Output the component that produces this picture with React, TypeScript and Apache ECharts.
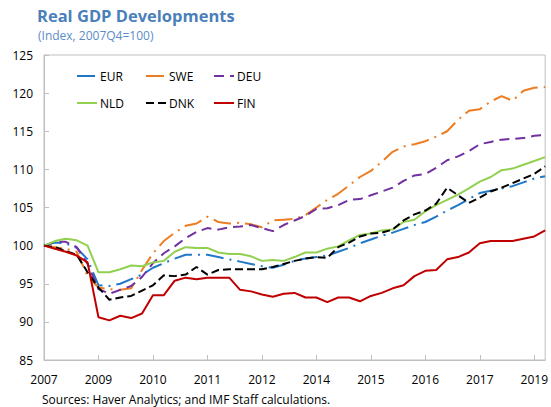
import React, { useEffect, useRef } from "react";
import * as echarts from "echarts";

const quarters = [
  "2007Q4",
  "2008Q1", "2008Q2", "2008Q3", "2008Q4",
  "2009Q1", "2009Q2", "2009Q3", "2009Q4",
  "2010Q1", "2010Q2", "2010Q3", "2010Q4",
  "2011Q1", "2011Q2", "2011Q3", "2011Q4",
  "2012Q1", "2012Q2", "2012Q3", "2012Q4",
  "2013Q1", "2013Q2", "2013Q3", "2013Q4",
  "2014Q1", "2014Q2", "2014Q3", "2014Q4",
  "2015Q1", "2015Q2", "2015Q3", "2015Q4",
  "2016Q1", "2016Q2", "2016Q3", "2016Q4",
  "2017Q1", "2017Q2", "2017Q3", "2017Q4",
  "2018Q1", "2018Q2", "2018Q3", "2018Q4",
  "2019Q1", "2019Q2",
];

const EUR = [100, 100.4, 100.3, 99.7, 98.2, 94.8, 94.7, 95.0, 95.6, 96.2, 97.1, 97.7, 98.3, 98.8, 98.8, 98.8, 98.5, 98.2, 97.9, 97.6, 97.3, 97.1, 97.5, 98.0, 98.3, 98.5, 98.7, 99.2, 99.7, 100.3, 100.8, 101.3, 101.7, 102.2, 102.7, 103.1, 103.8, 104.6, 105.3, 106.1, 106.9, 107.2, 107.5, 107.8, 108.3, 108.8, 109.1];
const SWE = [100, 99.8, 99.6, 99.2, 96.0, 94.5, 94.3, 94.2, 94.4, 96.8, 99.0, 100.6, 101.7, 102.6, 102.9, 103.8, 103.1, 102.9, 103.0, 102.8, 102.4, 103.3, 103.4, 103.5, 104.0, 105.0, 106.0, 106.8, 107.9, 109.0, 109.8, 111.0, 112.3, 113.0, 113.3, 113.7, 114.3, 115.0, 116.5, 117.7, 117.9, 118.9, 119.6, 119.0, 120.3, 120.7, 120.8];
const DEU = [100, 100.5, 100.5, 99.8, 97.6, 94.3, 93.7, 94.2, 94.7, 95.9, 97.7, 99.0, 99.9, 101.0, 101.8, 102.3, 102.1, 102.4, 102.5, 102.7, 102.3, 101.9, 102.7, 103.3, 103.9, 104.8, 104.9, 105.3, 106.0, 106.1, 106.6, 107.1, 107.6, 108.5, 109.2, 109.4, 110.2, 111.2, 111.7, 112.4, 113.3, 113.6, 113.9, 114.0, 114.1, 114.4, 114.5];
const NLD = [100, 100.6, 100.9, 100.7, 100.0, 96.5, 96.5, 96.9, 97.4, 97.3, 97.8, 98.0, 99.2, 99.8, 99.7, 99.7, 99.1, 98.9, 98.9, 98.6, 98.0, 98.1, 98.0, 98.5, 99.1, 99.1, 99.6, 99.9, 100.7, 101.4, 101.6, 102.0, 102.1, 103.1, 103.4, 104.5, 105.3, 106.0, 106.7, 107.5, 108.4, 109.0, 109.9, 110.1, 110.6, 111.1, 111.6];
const DNK = [100, 99.8, 99.3, 98.8, 96.5, 94.5, 92.9, 93.2, 93.4, 94.1, 94.8, 96.1, 96.0, 96.2, 97.2, 96.2, 96.8, 96.9, 96.9, 96.9, 96.9, 97.2, 97.6, 98.0, 98.3, 98.5, 98.4, 99.8, 100.4, 101.2, 101.6, 101.7, 102.1, 103.3, 104.1, 104.6, 105.5, 107.6, 106.6, 105.6, 106.3, 107.1, 107.6, 108.2, 108.8, 109.4, 110.4];
const FIN = [100, 99.6, 99.2, 98.7, 97.8, 90.6, 90.2, 90.8, 90.5, 91.1, 93.5, 93.5, 95.4, 95.8, 95.6, 95.8, 95.8, 95.8, 94.2, 94.0, 93.6, 93.3, 93.7, 93.8, 93.2, 93.2, 92.6, 93.2, 93.2, 92.7, 93.4, 93.8, 94.4, 94.8, 96.0, 96.7, 96.8, 98.2, 98.5, 99.1, 100.3, 100.6, 100.6, 100.6, 100.9, 101.2, 102.0];

const seriesNames = ["EUR", "SWE", "DEU", "NLD", "DNK", "FIN"];
const seriesData = [EUR, SWE, DEU, NLD, DNK, FIN];

const titleText = "Real GDP Developments";
const subtitleText = "(Index, 2007Q4=100)";
const sourceText = "Sources: Haver Analytics; and IMF Staff calculations.";

const FONT = "'Open Sans', 'Noto Sans', sans-serif";

export default function App() {
  const ref = useRef<HTMLDivElement>(null);

  useEffect(() => {
    const chart = echarts.init(ref.current!, null, { renderer: "svg" });

    const colors = ["#1f78c8", "#ee7d22", "#7030a0", "#92d050", "#000000", "#c00000"];
    const dashes: any[] = [
      [18, 6, 2, 6],
      [18, 6, 2, 6],
      [10, 6],
      "solid",
      [8, 4],
      "solid",
    ];
    const legendLeft = [76, 145, 213];
    const legendTop = [70, 97];

    chart.setOption({
      animation: false,
      backgroundColor: "#ffffff",
      title: [
        {
          text: titleText,
          left: 37,
          top: 7,
          padding: 0,
          textStyle: { fontFamily: FONT, fontSize: 16.5, fontWeight: "bold", color: "#4a7fba" },
        },
        {
          text: subtitleText,
          left: 38,
          top: 29,
          padding: 0,
          textStyle: { fontFamily: FONT, fontSize: 12, fontWeight: "normal", color: "#5a8cc6" },
        },
        {
          text: sourceText,
          left: 42,
          top: 393,
          padding: 0,
          textStyle: { fontFamily: FONT, fontSize: 12, fontWeight: "normal", color: "#000000" },
        },
      ],
      legend: seriesNames.map((n, i) => ({
        data: [n],
        left: legendLeft[i % 3],
        top: legendTop[Math.floor(i / 3)],
        itemWidth: 20,
        itemHeight: 10,
        itemGap: 0,
        padding: 0,
        selectedMode: false,
        itemStyle: { opacity: 0 },
        textStyle: { fontFamily: FONT, fontSize: 12, color: "#000000", padding: [0, 0, 0, -2] },
      })),
      grid: {
        left: 44,
        top: 55,
        right: 4,
        bottom: 47,
        show: true,
        borderColor: "#bfbfbf",
        borderWidth: 1,
      },
      xAxis: {
        type: "category",
        data: quarters,
        boundaryGap: false,
        axisLine: { show: true, lineStyle: { color: "#bfbfbf" } },
        axisTick: { show: true, inside: true, length: 5, interval: 4, lineStyle: { color: "#bfbfbf" } },
        axisLabel: {
          interval: 4,
          margin: 13,
          fontFamily: FONT,
          fontSize: 12,
          color: "#000000",
          formatter: (v: string) => v.slice(0, 4),
        },
        splitLine: { show: false },
      },
      yAxis: {
        type: "value",
        min: 85,
        max: 125,
        interval: 5,
        axisLine: { show: true, lineStyle: { color: "#bfbfbf" } },
        axisTick: { show: true, inside: true, length: 5, lineStyle: { color: "#bfbfbf" } },
        axisLabel: { margin: 11, fontFamily: FONT, fontSize: 12, color: "#000000" },
        splitLine: { show: false },
      },
      series: seriesNames.map((n, i) => ({
        name: n,
        type: "line",
        data: seriesData[i],
        symbol: "none",
        smooth: false,
        color: colors[i],
        lineStyle: { color: colors[i], width: 2, type: dashes[i], cap: "butt" },
      })),
    });

    return () => chart.dispose();
  }, []);

  return (
    <div
      ref={ref}
      style={{ position: "fixed", left: 0, top: 0, width: 551, height: 407, background: "#fff" }}
    />
  );
}
